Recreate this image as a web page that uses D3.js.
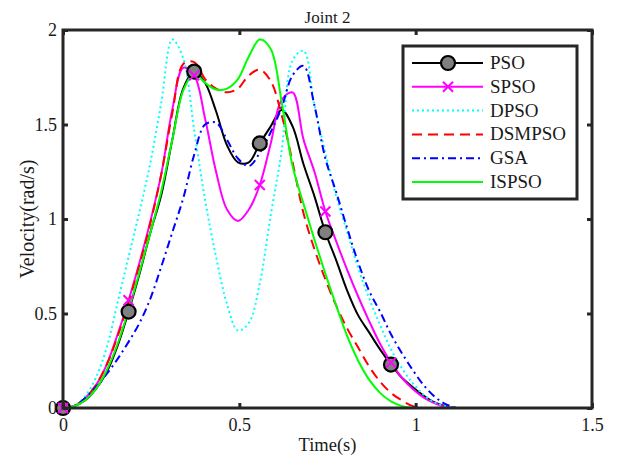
<!DOCTYPE html>
<html><head><meta charset="utf-8">
<script src="https://cdn.jsdelivr.net/npm/d3@7"></script>
<style>
html,body{margin:0;padding:0;background:#fff;}
text{font-family:"Liberation Serif","Times New Roman",serif;fill:#1a1a1a;}
</style></head>
<body><svg id="chart" width="618" height="459"></svg>
<script>
const time = [0,0.031,0.062,0.093,0.124,0.155,0.186,0.217,0.248,0.279,0.31,0.341,0.372,0.403,0.434,0.465,0.496,0.527,0.558,0.589,0.62,0.651,0.682,0.713,0.744,0.775,0.806,0.837,0.868,0.899,0.93,0.961,0.992,1.023,1.054,1.085,1.116];
const pso    = [0,0.01,0.04,0.10,0.19,0.33,0.51,0.71,0.93,1.13,1.42,1.69,1.78,1.72,1.57,1.39,1.30,1.30,1.40,1.49,1.577,1.49,1.29,1.12,0.93,0.78,0.62,0.49,0.40,0.31,0.23,0.16,0.11,0.065,0.03,0.01,0];
const spso   = [0,0.01,0.05,0.12,0.23,0.39,0.57,0.77,0.99,1.24,1.58,1.80,1.76,1.53,1.25,1.05,0.99,1.05,1.18,1.40,1.63,1.67,1.42,1.25,1.04,0.88,0.73,0.59,0.46,0.34,0.24,0.16,0.10,0.055,0.025,0.005,0];
const dpso   = [0,0.01,0.06,0.16,0.32,0.56,0.80,1.04,1.30,1.62,1.95,1.85,1.47,1.10,0.80,0.55,0.41,0.45,0.66,1.02,1.36,1.84,1.89,1.60,1.35,1.12,0.93,0.74,0.58,0.44,0.31,0.21,0.13,0.07,0.03,0.01,0];
const dsmpso = [0,0.01,0.05,0.12,0.23,0.38,0.56,0.76,0.98,1.24,1.56,1.82,1.83,1.74,1.69,1.67,1.69,1.76,1.79,1.73,1.55,1.30,1.03,0.84,0.68,0.54,0.42,0.32,0.22,0.14,0.08,0.04,0.01,0,0,0,0];
const gsa    = [0,0.01,0.05,0.11,0.18,0.26,0.35,0.45,0.58,0.75,0.93,1.11,1.34,1.50,1.51,1.42,1.32,1.28,1.35,1.46,1.59,1.76,1.81,1.60,1.32,1.14,0.95,0.77,0.62,0.51,0.39,0.29,0.20,0.12,0.06,0.02,0];
const ispso  = [0,0.01,0.04,0.10,0.20,0.34,0.52,0.72,0.93,1.15,1.42,1.68,1.77,1.72,1.685,1.69,1.74,1.86,1.95,1.90,1.62,1.28,1.08,0.89,0.71,0.54,0.38,0.25,0.15,0.08,0.035,0.01,0,0,0,0,0];
const seriesNames = ["PSO","SPSO","DPSO","DSMPSO","GSA","ISPSO"];
const xTicks = [0,0.5,1,1.5];
const yTicks = [0,0.5,1,1.5,2];
const xTickLabels = ["0","0.5","1","1.5"];
const yTickLabels = ["0","0.5","1","1.5","2"];
const titleText = "Joint 2";
const xLabel = "Time(s)";
const yLabel = "Velocity(rad/s)";

const styles = {
  PSO:    {color:"#000000", dash:null, marker:"circle"},
  SPSO:   {color:"#ff00ff", dash:null, marker:"x"},
  DPSO:   {color:"#00ffff", dash:"2,3", marker:null},
  DSMPSO: {color:"#ff0000", dash:"10,6", marker:null},
  GSA:    {color:"#0000ff", dash:"8,4,2,4", marker:null},
  ISPSO:  {color:"#00ff00", dash:null, marker:null}
};
const values = {PSO:pso, SPSO:spso, DPSO:dpso, DSMPSO:dsmpso, GSA:gsa, ISPSO:ispso};

const svg = d3.select("#chart");
const L=63, R=592, T=30, B=408;
const x = d3.scaleLinear().domain([0,1.5]).range([L,R]);
const y = d3.scaleLinear().domain([0,2]).range([B,T]);
const axisColor = "#262626";

svg.append("defs").append("clipPath").attr("id","clip")
  .append("rect").attr("x",L).attr("y",T-5).attr("width",R-L).attr("height",B-T+5);

svg.append("text").attr("x",(L+R)/2).attr("y",23).attr("text-anchor","middle")
  .attr("font-size",17).text(titleText);

const plot = svg.append("g");
const line = d3.line().x(d=>x(d[0])).y(d=>y(d[1])).curve(d3.curveCatmullRom.alpha(0.5));

seriesNames.forEach(name=>{
  const st = styles[name];
  const pts = time.map((t,i)=>[t, values[name][i]]);
  plot.append("path").datum(pts).attr("d",line).attr("fill","none")
    .attr("clip-path","url(#clip)")
    .attr("stroke",st.color).attr("stroke-width",2)
    .attr("stroke-dasharray",st.dash);
});
seriesNames.forEach(name=>{
  const st = styles[name];
  if(!st.marker) return;
  const pts = time.map((t,i)=>[t, values[name][i]]).filter((d,i)=>i%6===0 && i<time.length-1);
  if(st.marker==="circle"){
    plot.selectAll(null).data(pts).enter().append("circle")
      .attr("cx",d=>x(d[0])).attr("cy",d=>y(d[1])).attr("r",7)
      .attr("fill","#808080").attr("stroke","#000").attr("stroke-width",2.2);
  } else {
    const s=5;
    plot.selectAll(null).data(pts).enter().append("path")
      .attr("d",d=>{const cx=x(d[0]),cy=y(d[1]);return `M${cx-s},${cy-s}L${cx+s},${cy+s}M${cx-s},${cy+s}L${cx+s},${cy-s}`;})
      .attr("stroke",st.color).attr("stroke-width",2).attr("fill","none");
  }
});

function styleAxis(g){
  g.select(".domain").remove();
  g.selectAll(".tick line").attr("stroke",axisColor).attr("stroke-width",3);
  g.selectAll(".tick text").attr("font-family","Liberation Serif").attr("font-size",18).attr("fill","#1a1a1a");
}
svg.append("g").attr("transform",`translate(0,${B})`)
  .call(d3.axisBottom(x).tickValues(xTicks).tickFormat((d,i)=>xTickLabels[i]).tickSize(-5).tickPadding(10))
  .call(styleAxis);
svg.append("g").attr("transform",`translate(0,${T})`)
  .call(d3.axisTop(x).tickValues(xTicks).tickFormat("").tickSize(-5))
  .call(styleAxis);
svg.append("g").attr("transform",`translate(${L},0)`)
  .call(d3.axisLeft(y).tickValues(yTicks).tickFormat((d,i)=>yTickLabels[i]).tickSize(-5).tickPadding(6))
  .call(styleAxis);
svg.append("g").attr("transform",`translate(${R},0)`)
  .call(d3.axisRight(y).tickValues(yTicks).tickFormat("").tickSize(-5))
  .call(styleAxis);
svg.append("rect").attr("x",L).attr("y",T).attr("width",R-L).attr("height",B-T)
  .attr("fill","none").attr("stroke",axisColor).attr("stroke-width",3);

svg.append("text").attr("x",(L+R)/2).attr("y",451).attr("text-anchor","middle")
  .attr("font-size",18.5).text(xLabel);
svg.append("text").attr("transform",`translate(34,${(T+B)/2}) rotate(-90)`).attr("text-anchor","middle")
  .attr("font-size",20).text(yLabel);

const lg = svg.append("g");
lg.append("rect").attr("x",403).attr("y",46).attr("width",174).attr("height",153)
  .attr("fill","#fff").attr("stroke",axisColor).attr("stroke-width",3);
seriesNames.forEach((name,i)=>{
  const st = styles[name];
  const yy = 63 + i*23.8;
  lg.append("line").attr("x1",412).attr("x2",483).attr("y1",yy).attr("y2",yy)
    .attr("stroke",st.color).attr("stroke-width",2).attr("stroke-dasharray",st.dash);
  if(st.marker==="circle"){
    lg.append("circle").attr("cx",448).attr("cy",yy).attr("r",7)
      .attr("fill","#808080").attr("stroke","#000").attr("stroke-width",2.2);
  } else if(st.marker==="x"){
    const s=5;
    lg.append("path").attr("d",`M${448-s},${yy-s}L${448+s},${yy+s}M${448-s},${yy+s}L${448+s},${yy-s}`)
      .attr("stroke",st.color).attr("stroke-width",2);
  }
  lg.append("text").attr("x",490).attr("y",yy+6).attr("font-size",19).text(name);
});
</script></body></html>
